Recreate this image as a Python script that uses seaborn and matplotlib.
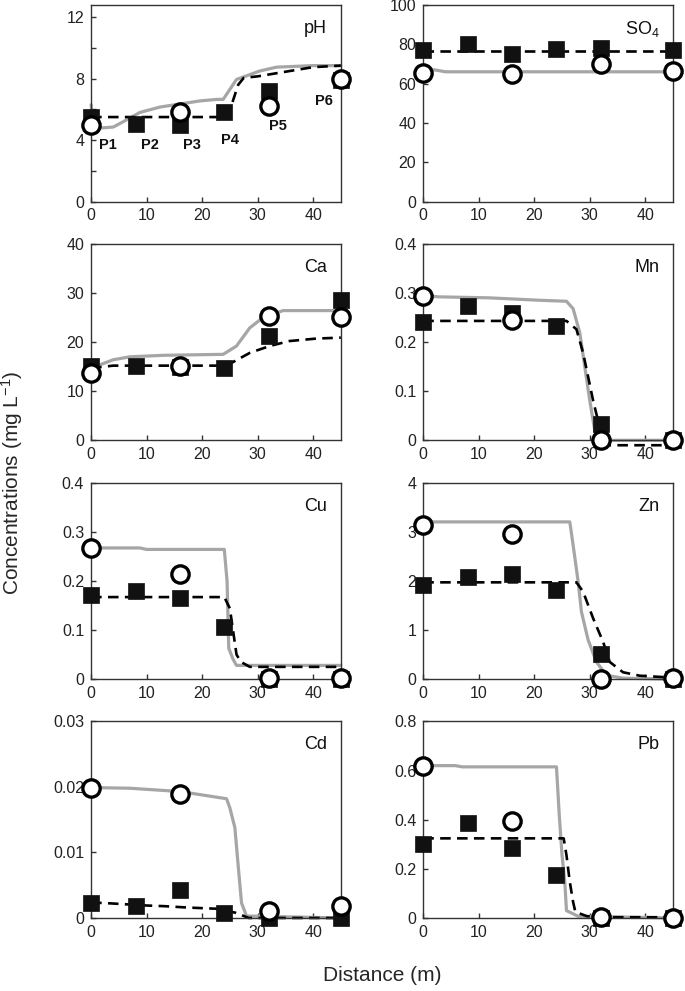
import matplotlib
matplotlib.use("Agg")
import matplotlib.pyplot as plt
import seaborn as sns

# sampling points (m): squares at all six, circles at four
x_sq = [0, 8, 16, 24, 32, 45]
x_ci = [0, 16, 32, 45]
p_labels = ["P1", "P2", "P3", "P4", "P5", "P6"]

# pH
ph_sq = [5.5, 5.05, 4.95, 5.85, 7.2, 7.9]
ph_ci = [5.0, 5.85, 6.2, 8.0]
ph_gx = [0, 0.4, 4, 5.8, 8.8, 12.4, 16, 19.6, 22.6, 23.8, 25, 26.2, 30.4, 33.4, 40, 45]
ph_gy = [6.3, 4.75, 4.85, 5.2, 5.8, 6.15, 6.35, 6.55, 6.65, 6.65, 7.3, 7.95, 8.5, 8.75, 8.85, 8.85]
ph_dx = [0, 24.5, 25.5, 26.5, 27.5, 30, 35, 40, 45]
ph_dy = [5.5, 5.5, 6.5, 7.6, 8.05, 8.15, 8.45, 8.75, 8.85]

# SO4
so4_sq = [77, 80, 75.3, 77.4, 77.9, 77]
so4_ci = [65.5, 64.8, 69.9, 66.3]
so4_gx = [0, 2, 4, 45]
so4_gy = [67.2, 67, 66, 66]
so4_dx = [0, 45]
so4_dy = [76.5, 76.5]

# Ca
ca_sq = [15.1, 15.1, 15.0, 14.7, 21.2, 28.6]
ca_ci = [13.8, 15.1, 25.3, 25.0]
ca_gx = [0, 4, 7, 13, 23.8, 26.2, 28.6, 31, 34.6, 45]
ca_gy = [14.7, 16.4, 17.0, 17.3, 17.5, 19.2, 22.9, 25.0, 26.4, 26.4]
ca_dx = [0, 4, 24.4, 28.6, 32.2, 35.7, 40.5, 45]
ca_dy = [14.7, 15.2, 15.2, 17.8, 19.2, 20.2, 20.7, 20.9]

# Mn
mn_sq = [0.24, 0.274, 0.26, 0.233, 0.033, 0.0]
mn_ci = [0.294, 0.245, 0.0, 0.0]
mn_gx = [0, 2.7, 11.8, 21, 25.8, 27, 28.2, 30, 31.2, 45]
mn_gy = [0.295, 0.292, 0.29, 0.285, 0.283, 0.268, 0.219, 0.081, 0.0, 0.0]
mn_dx = [0, 25.8, 27.6, 28.8, 30.6, 31.8, 33, 45]
mn_dy = [0.243, 0.243, 0.226, 0.178, 0.081, 0.026, -0.01, -0.01]

# Cu
cu_sq = [0.171, 0.179, 0.165, 0.107, 0.0, 0.0]
cu_ci = [0.267, 0.214, 0.003, 0.003]
cu_gx = [0, 8.8, 10, 24, 24.5, 24.8, 25.6, 26.2, 45]
cu_gy = [0.267, 0.267, 0.264, 0.264, 0.199, 0.063, 0.04, 0.028, 0.028]
cu_dx = [0, 24, 25, 25.6, 26.2, 27, 28.6, 45]
cu_dy = [0.167, 0.167, 0.144, 0.097, 0.05, 0.035, 0.025, 0.025]

# Zn
zn_sq = [1.92, 2.07, 2.14, 1.82, 0.52, 0.0]
zn_ci = [3.14, 2.95, 0.0, 0.03]
zn_gx = [0, 26.4, 27, 27.9, 28.5, 29.7, 31.2, 33, 36, 45]
zn_gy = [3.2, 3.2, 2.73, 1.99, 1.37, 0.8, 0.35, 0.08, 0.02, 0.0]
zn_dx = [0, 27.6, 28.8, 30.6, 32.4, 33.6, 36, 39, 45]
zn_dy = [1.97, 1.97, 1.78, 1.24, 0.76, 0.35, 0.14, 0.07, 0.03]

# Cd
cd_sq = [0.0023, 0.0019, 0.0042, 0.0008, 0.0, 0.0]
cd_ci = [0.0198, 0.0189, 0.001, 0.0019]
cd_gx = [0, 7, 16, 24.4, 25, 25.9, 26.5, 27.1, 28, 45]
cd_gy = [0.0199, 0.0198, 0.0193, 0.0182, 0.0168, 0.0138, 0.008, 0.0023, 0.0003, 0.0]
cd_dx = [0, 2, 10, 13.2, 17.2, 22.8, 26, 28.4, 45]
cd_dy = [0.0023, 0.0023, 0.0019, 0.0018, 0.0016, 0.0014, 0.0008, 0.0, 0.0]

# Pb
pb_sq = [0.30, 0.385, 0.286, 0.174, 0.0, 0.0]
pb_ci = [0.617, 0.395, 0.005, 0.0]
pb_gx = [0, 5.8, 7, 24, 24.5, 25, 25.5, 25.8, 27.9, 45]
pb_gy = [0.62, 0.62, 0.615, 0.615, 0.42, 0.256, 0.147, 0.03, 0.007, 0.0]
pb_dx = [0, 25.3, 25.8, 26.4, 27, 27.4, 29.5, 33, 45]
pb_dy = [0.324, 0.324, 0.256, 0.147, 0.065, 0.025, 0.007, 0.003, 0.003]

panels = [
    ("pH", ph_sq, ph_ci, ph_gx, ph_gy, ph_dx, ph_dy, 12.8, 2),
    ("SO$_4$", so4_sq, so4_ci, so4_gx, so4_gy, so4_dx, so4_dy, 100, 20),
    ("Ca", ca_sq, ca_ci, ca_gx, ca_gy, ca_dx, ca_dy, 40, 10),
    ("Mn", mn_sq, mn_ci, mn_gx, mn_gy, mn_dx, mn_dy, 0.4, 0.1),
    ("Cu", cu_sq, cu_ci, cu_gx, cu_gy, cu_dx, cu_dy, 0.4, 0.1),
    ("Zn", zn_sq, zn_ci, zn_gx, zn_gy, zn_dx, zn_dy, 4, 1),
    ("Cd", cd_sq, cd_ci, cd_gx, cd_gy, cd_dx, cd_dy, 0.03, 0.01),
    ("Pb", pb_sq, pb_ci, pb_gx, pb_gy, pb_dx, pb_dy, 0.8, 0.2),
]

sns.set_theme(style="ticks")
plt.rcParams["font.family"] = ["Liberation Sans", "DejaVu Sans"]
plt.rcParams["mathtext.default"] = "regular"

fig, axes = plt.subplots(4, 2, figsize=(6.85, 9.91), dpi=100)
fig.subplots_adjust(left=0.133, right=0.9825, top=0.995, bottom=0.0737,
                    wspace=0.33, hspace=0.215)

for ax, (name, sq, ci, gx, gy, dx, dy, ymax, step) in zip(axes.flat, panels):
    # model curves
    sns.lineplot(x=gx, y=gy, ax=ax, color="#a6a6a6", lw=2.3,
                 estimator=None, sort=False, clip_on=False, zorder=2)
    sns.lineplot(x=dx, y=dy, ax=ax, color="black", lw=1.9,
                 estimator=None, sort=False, clip_on=False, zorder=2)
    ax.lines[-1].set_linestyle((0, (4, 2.4)))
    # observations
    sns.scatterplot(x=x_sq, y=sq, ax=ax, marker="s", s=140, color="#111111",
                    edgecolor="#111111", linewidth=0.5, zorder=3, clip_on=False)
    sns.scatterplot(x=x_ci, y=ci, ax=ax, marker="o", s=155, color="white",
                    edgecolor="black", linewidth=2.4, zorder=4, clip_on=False)

    ax.set_xlim(0, 45)
    ax.set_ylim(0, ymax)
    ax.set_xticks([0, 10, 20, 30, 40])
    n = int(round(ymax / step))
    yt = [round(i * step, 4) for i in range(n + 1)]
    ax.set_yticks(yt)
    if name == "pH":
        ax.set_yticklabels([f"{v:g}" if v % 4 == 0 else "" for v in yt])
    else:
        ax.set_yticklabels([f"{v:g}" for v in yt])
    ax.tick_params(direction="in", length=3.5, width=1, color="#333333",
                   labelsize=11.5, pad=5, labelcolor="#222222")
    for sp in ax.spines.values():
        sp.set_visible(True)
        sp.set_color("#333333")
        sp.set_linewidth(1)
    ax.set_xlabel("")
    ax.set_ylabel("")
    ax.text(0.945, 0.88, name, transform=ax.transAxes, ha="right",
            va="center", fontsize=13, color="#111111")

# sampling point labels in the pH panel
p_x = [3.1, 10.6, 18.1, 25, 33.6, 42]
p_y = [3.66, 3.66, 3.66, 4.0, 4.9, 6.55]
for lab, px, py in zip(p_labels, p_x, p_y):
    axes[0, 0].text(px, py, lab, ha="center", va="center", fontsize=10.5,
                    fontweight="bold", color="#111111")

fig.text(0.558, 0.016, "Distance (m)", ha="center", va="center", fontsize=15)
fig.text(0.018, 0.513, "Concentrations (mg L$^{-1}$)", ha="center", va="center",
         rotation=90, fontsize=15)

fig.savefig("out.png", dpi=100)
